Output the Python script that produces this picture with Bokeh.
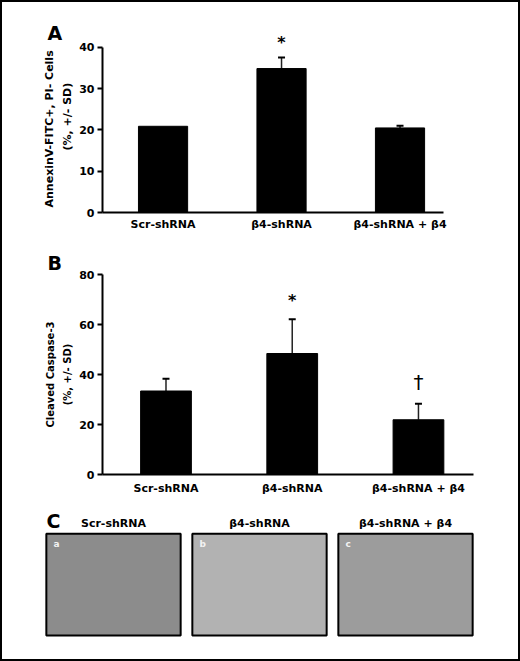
from bokeh.plotting import figure
from bokeh.models import (ColumnDataSource, FixedTicker, Whisker, TeeHead, Title,
                          Range1d, FactorRange)
from bokeh.layouts import column
from bokeh.embed import file_html
from bokeh.resources import INLINE
from bokeh.core.properties import value

# ---------------- data ----------------
groups = ["Scr-shRNA", "β4-shRNA", "β4-shRNA + β4"]

annexin_mean = [20.9, 34.9, 20.5]
annexin_sd = [0.0, 2.7, 0.5]
annexin_marks = ["", "*", ""]
annexin_ticks = [0, 10, 20, 30, 40]
annexin_label = ["AnnexinV-FITC+, PI- Cells", "(%, +/- SD)"]

caspase_mean = [33.4, 48.4, 21.9]
caspase_sd = [4.9, 13.7, 6.4]
caspase_marks = ["", "*", "†"]
caspase_ticks = [0, 20, 40, 60, 80]
caspase_label = ["Cleaved Caspase-3", "(%, +/- SD)"]

photo_tags = ["a", "b", "c"]
photo_tones = ["#8c8c8c", "#b2b2b2", "#9c9c9c"]

FONT = "DejaVu Sans"
W = 520


def bar_panel(height, b_top, b_bottom, b_right, x_rng, y_rng, y_max, ticks, means, sds,
              marks, ylabel, ylabel_layout, ylabel_size, letter, letter_standoff,
              xlab_standoff, bar_w, star_off, dag_off):
    pos = list(range(len(groups)))
    p = figure(width=W, height=height, x_range=Range1d(*x_rng), y_range=Range1d(*y_rng),
               output_backend="svg", toolbar_location=None, frame_align=False,
               min_border_left=102, min_border_right=b_right,
               min_border_top=b_top, min_border_bottom=b_bottom,
               outline_line_color=None, background_fill_color=None,
               border_fill_color=None)
    p.xgrid.visible = False
    p.ygrid.visible = False
    src = ColumnDataSource(dict(x=pos, top=means, mark=marks))
    wsrc = ColumnDataSource(dict(x=[x for x, s in zip(pos, sds) if s > 0],
                                 top=[m for m, s in zip(means, sds) if s > 0],
                                 upper=[m + s for m, s in zip(means, sds) if s > 0]))
    p.add_layout(Whisker(source=wsrc, base="x", lower="top", upper="upper",
                         line_color="#222222", line_width=1.5,
                         upper_head=TeeHead(size=7, line_color="black", line_width=2),
                         lower_head=None, level="underlay"))
    p.vbar(x="x", top="top", bottom=0, width=bar_w, source=src,
           fill_color="black", line_color="black")
    star = ColumnDataSource(dict(x=[x for x, m in zip(pos, marks) if m == "*"],
                                 y=[m + s for m, s, k in zip(means, sds, marks) if k == "*"],
                                 t=["*" for m in marks if m == "*"]))
    p.text(x="x", y="y", text="t", source=star, text_font=value(FONT),
           text_font_style="bold", text_font_size="16px", text_align="center",
           text_baseline="middle", y_offset=star_off, text_color="black")
    dag = ColumnDataSource(dict(x=[x for x, m in zip(pos, marks) if m == "†"],
                                y=[m + s for m, s, k in zip(means, sds, marks) if k == "†"],
                                t=["†" for m in marks if m == "†"]))
    p.text(x="x", y="y", text="t", source=dag, text_font=value(FONT),
           text_font_style="normal", text_font_size="20px", text_align="center",
           text_baseline="middle", y_offset=dag_off, text_color="black")

    xa = p.xaxis[0]
    xa.ticker = FixedTicker(ticks=pos)
    xa.major_label_overrides = {i: g for i, g in zip(pos, groups)}
    xa.major_tick_out = 0
    xa.major_tick_in = 0
    xa.minor_tick_out = 0
    xa.minor_tick_in = 0
    xa.axis_line_width = 2
    xa.major_label_standoff = xlab_standoff
    xa.major_label_text_font = FONT
    xa.major_label_text_font_style = "bold"
    xa.major_label_text_font_size = "11px"
    xa.major_label_text_color = "black"

    ya = p.yaxis[0]
    ya.ticker = FixedTicker(ticks=ticks)
    ya.bounds = (0, y_max)
    ya.major_tick_out = 5
    ya.major_tick_in = 0
    ya.major_tick_line_width = 2
    ya.minor_tick_out = 0
    ya.minor_tick_in = 0
    ya.axis_line_width = 2
    ya.major_label_standoff = 3
    ya.major_label_text_font = FONT
    ya.major_label_text_font_style = "bold"
    ya.major_label_text_font_size = "11px"
    ya.major_label_text_color = "black"

    # two-line rotated y label: second line closest to the axis
    for txt, (al, off, so) in [(ylabel[1], ylabel_layout[1]), (ylabel[0], ylabel_layout[0])]:
        p.add_layout(Title(text=txt, align=al, offset=off, standoff=so,
                           text_font=FONT, text_font_style="bold",
                           text_font_size=ylabel_size, text_color="black"), "left")

    p.title.text = letter
    p.title.align = "left"
    p.title.offset = -55
    p.title.standoff = letter_standoff
    p.title.text_font = FONT
    p.title.text_font_style = "bold"
    p.title.text_font_size = "19px"
    p.title.text_color = "black"
    return p


pA = bar_panel(240, 34, 28, 77, (-0.511, 2.367), (0, 43.15), 40, annexin_ticks,
               annexin_mean, annexin_sd, annexin_marks, annexin_label,
               [("left", 5, 0), ("left", 62, 6)], "11px",
               "A", -19, 5, 0.415, -15, -22)
pB = bar_panel(260, 34, 26, 47, (-0.503, 2.436), (0, 80), 80, caspase_ticks,
               caspase_mean, caspase_sd, caspase_marks, caspase_label,
               [("center", 0, 2), ("center", 0, 7)], "10px",
               "B", 2, 7, 0.402, -19, -22)

# ---------------- panel C: photo placeholders ----------------
pC = figure(width=W, height=161, x_range=FactorRange(factors=groups),
            y_range=Range1d(-0.02, 1.229), x_axis_location=None, y_axis_location=None,
            output_backend="svg", toolbar_location=None, frame_align=False,
            min_border_left=40, min_border_right=42, min_border_top=10, min_border_bottom=24,
            outline_line_color=None, background_fill_color=None, border_fill_color=None)
pC.xgrid.visible = False
pC.ygrid.visible = False
csrc = ColumnDataSource(dict(x=groups, tone=photo_tones, tag=photo_tags))
pC.vbar(x="x", top=1, bottom=0, width=0.92, source=csrc, fill_color="tone",
        line_color="black", line_width=2)
pC.text(x="x", y=1, text="tag", source=csrc, x_offset=-60, y_offset=5,
        text_font=value(FONT), text_font_size="9px", text_font_style="bold",
        text_color="#f2f2f2", text_baseline="top", text_align="left")
pC.text(x="x", y=1, text="x", source=csrc, y_offset=-10,
        text_font=value(FONT), text_font_size="11px", text_font_style="bold",
        text_color="black", text_baseline="alphabetic", text_align="center")
pC.text(x=[groups[0]], y=[1], text=["C"], x_offset=-67, y_offset=-13,
        text_font=value(FONT), text_font_size="19px", text_font_style="bold",
        text_color="black", text_baseline="alphabetic", text_align="left")

page = column(pA, pB, pC, styles={"outline": "2px solid black", "outline-offset": "-2px",
                                  "background-color": "white"})

open("out.html", "w").write(file_html(page, INLINE))
